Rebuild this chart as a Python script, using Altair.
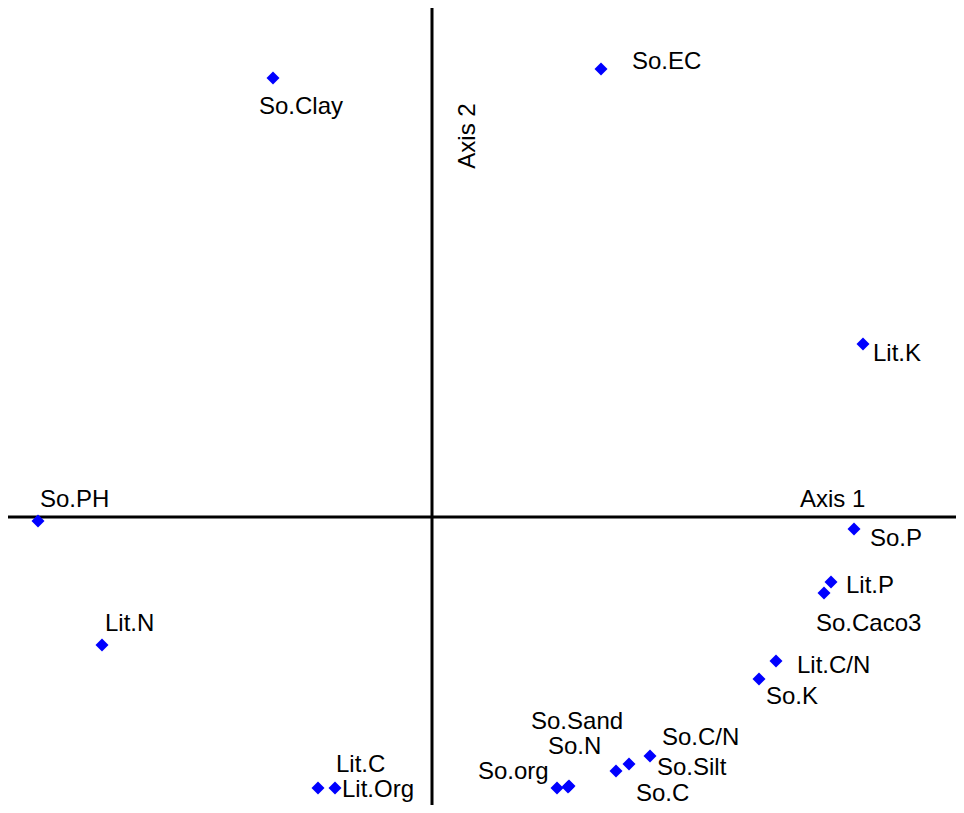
import altair as alt
import pandas as pd

names = ["So.Clay", "So.EC", "Lit.K", "So.PH", "So.P", "Lit.P", "So.Caco3", "Lit.N",
         "Lit.C/N", "So.K", "So.org", "So.N", "So.Sand", "So.C", "So.Silt", "So.C/N",
         "Lit.C", "Lit.Org"]
axis1 = [-0.3975, 0.4225, 1.0775, -0.985, 1.055, 0.9975, 0.98, -0.825,
         0.86, 0.8175, 0.3125, 0.3425, 0.34, 0.46, 0.4925, 0.545,
         -0.285, -0.2425]
axis2 = [1.0975, 1.12, 0.4325, -0.01, -0.03, -0.1625, -0.19, -0.32,
         -0.36, -0.405, -0.6775, -0.6725, -0.675, -0.635, -0.6175, -0.5975,
         -0.6775, -0.6775]

df = pd.DataFrame({"name": names, "a1": axis1, "a2": axis2})

# label offsets (style): dx, dy in pixels
offsets = {
    "So.Clay": (-14, 29), "So.EC": (31, -7), "Lit.K": (10, 10), "So.PH": (2, -21),
    "So.P": (16, 10), "Lit.P": (15, 4), "So.Caco3": (-8, 31), "Lit.N": (3, -21),
    "Lit.C/N": (21, 5), "So.K": (7, 18), "So.org": (-79, -16), "So.N": (-21, -39),
    "So.Sand": (-37, -65), "So.C": (20, 23), "So.Silt": (28, 4), "So.C/N": (12, -18),
    "Lit.C": (18, -23), "Lit.Org": (7, 2),
}

FONT = "Liberation Sans"
FS = 24

xs = alt.Scale(domain=[-1.06, 1.31], nice=False, zero=False)
ys = alt.Scale(domain=[-0.72, 1.2725], nice=False, zero=False)

base = alt.Chart(df)

hline = alt.Chart(pd.DataFrame({"v": [0]})).mark_rule(color="black", strokeWidth=3).encode(
    y=alt.Y("v:Q", scale=ys, axis=None))
vline = alt.Chart(pd.DataFrame({"v": [0]})).mark_rule(color="black", strokeWidth=3).encode(
    x=alt.X("v:Q", scale=xs, axis=None))

points = base.mark_point(shape="diamond", filled=True, color="#0000FF", size=170, opacity=1).encode(
    x=alt.X("a1:Q", scale=xs, axis=None),
    y=alt.Y("a2:Q", scale=ys, axis=None),
)

layers = [hline, vline, points]
for n in names:
    dx, dy = offsets[n]
    layers.append(
        base.transform_filter(alt.datum.name == n).mark_text(
            align="left", baseline="middle", dx=dx, dy=dy, font=FONT, fontSize=FS, color="black"
        ).encode(
            x=alt.X("a1:Q", scale=xs, axis=None),
            y=alt.Y("a2:Q", scale=ys, axis=None),
            text="name:N",
        )
    )

titles = pd.DataFrame({"t": ["Axis 1"], "x": [0.92], "y": [0.0425]})
t1 = alt.Chart(titles).mark_text(align="left", baseline="middle", font=FONT, fontSize=FS,
                                 color="black").encode(
    x=alt.X("x:Q", scale=xs, axis=None), y=alt.Y("y:Q", scale=ys, axis=None), text="t:N")
titles2 = pd.DataFrame({"t": ["Axis 2"], "x": [0.09], "y": [0.9525]})
t2 = alt.Chart(titles2).mark_text(align="center", baseline="middle", font=FONT, fontSize=FS,
                                  angle=270, color="black").encode(
    x=alt.X("x:Q", scale=xs, axis=None), y=alt.Y("y:Q", scale=ys, axis=None), text="t:N")
layers += [t1, t2]

chart = alt.layer(*layers).properties(
    width=948, height=797, padding=0, autosize=alt.AutoSizeParams(type="none")
).configure_view(stroke=None)

chart.save("out.html", embed_options={"renderer": "svg", "actions": False})
